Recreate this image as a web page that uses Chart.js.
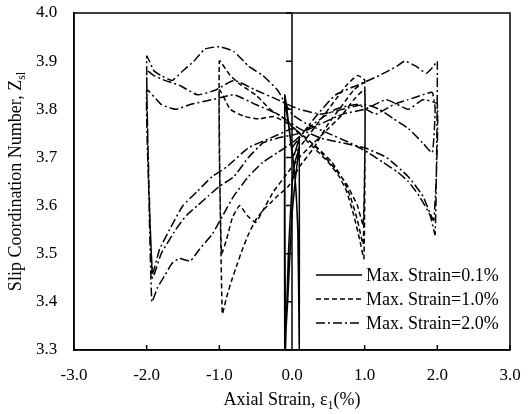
<!DOCTYPE html>
<html>
<head>
<meta charset="utf-8">
<script src="https://cdn.jsdelivr.net/npm/chart.js@4.4.0/dist/chart.umd.min.js"></script>
<style>
    html, body { margin: 0; padding: 0; background: #fff; }
</style>
</head>
<body>
<canvas id="strainChart" width="528" height="414"></canvas>
<script>
// tick values
const xTicks = [-3, -2, -1, 0, 1, 2, 3];
const yTicks = [3.3, 3.4, 3.5, 3.6, 3.7, 3.8, 3.9, 4.0];

// Max. Strain = 0.1%
const strain01 = [0, 0.04, 0.08, 0.1, 0.1, 0.09, 0.06, 0.02, -0.03, -0.07, -0.1, -0.1, -0.06, 0, 0.05, 0.08, 0.1, 0.1,
    0.08, 0.04, 0, -0.05, -0.09, -0.1, -0.09, -0.05, 0, 0.04, 0.08, 0.1];
const z01 = [3.70, 3.71, 3.73, 3.74, 3.30, 3.50, 3.62, 3.69, 3.75, 3.80, 3.83, 3.30, 3.40, 3.58, 3.66, 3.70, 3.72, 3.30,
    3.55, 3.66, 3.71, 3.77, 3.81, 3.82, 3.30, 3.50, 3.64, 3.69, 3.71, 3.72];

// Max. Strain = 1.0%
const strain10 = [0, 0.2, 0.4, 0.6, 0.75, 0.9, 1.0,
    0.99, 0.93, 0.85, 0.75, 0.65, 0.5, 0.3, 0.1, -0.1, -0.3, -0.5, -0.7, -0.85, -1.0,
    -0.96, -0.9, -0.83, -0.75, -0.68, -0.6, -0.5, -0.4, -0.3, -0.2, -0.05, 0.1, 0.3, 0.5, 0.7, 0.85, 1.0,
    0.98, 0.9, 0.8, 0.7, 0.55, 0.35, 0.15, -0.05, -0.25, -0.45, -0.65, -0.85, -1.0,
    -0.97, -0.9, -0.82, -0.72, -0.62, -0.5, -0.4, -0.25, -0.1, 0.1, 0.3, 0.5, 0.7, 0.85, 1.0,
    0.98, 0.9, 0.75, 0.6, 0.4, 0.2, 0];
const z10 = [3.70, 3.74, 3.78, 3.82, 3.85, 3.87, 3.86,
    3.49, 3.53, 3.58, 3.63, 3.66, 3.69, 3.72, 3.75, 3.78, 3.80, 3.83, 3.85, 3.87, 3.90,
    3.375, 3.41, 3.445, 3.48, 3.51, 3.54, 3.57, 3.59, 3.605, 3.62, 3.64, 3.68, 3.72, 3.77, 3.81, 3.84, 3.855,
    3.52, 3.57, 3.62, 3.655, 3.69, 3.72, 3.745, 3.77, 3.785, 3.78, 3.785, 3.80, 3.84,
    3.50, 3.53, 3.575, 3.60, 3.58, 3.565, 3.59, 3.63, 3.66, 3.70, 3.73, 3.76, 3.79, 3.82, 3.84,
    3.56, 3.60, 3.645, 3.675, 3.71, 3.74, 3.76];

// Max. Strain = 2.0%
const strain20 = [0, 0.3, 0.6, 0.9, 1.2, 1.45, 1.55, 1.7, 1.85, 1.95, 2.0,
    1.97, 1.9, 1.75, 1.6, 1.45, 1.25, 1.05, 0.8, 0.5, 0.2, 0, -0.2, -0.4, -0.6, -0.8, -1.0, -1.2, -1.35, -1.5, -1.65, -1.8, -1.9, -2.0,
    -1.93, -1.85, -1.75, -1.65, -1.55, -1.4, -1.27, -1.1, -0.95, -0.8, -0.6, -0.4, -0.2, 0, 0.3, 0.6, 0.9, 1.15, 1.4, 1.6, 1.8, 1.93, 1.97,
    1.93, 1.8, 1.6, 1.4, 1.2, 1.0, 0.7, 0.4, 0.1, -0.2, -0.5, -0.8, -1.05, -1.3, -1.55, -1.75, -1.9, -2.0,
    -1.92, -1.8, -1.6, -1.45, -1.3, -1.15, -1.0, -0.8, -0.6, -0.4, -0.2, 0.1, 0.4, 0.7, 1.0, 1.3, 1.6, 1.8, 2.0,
    1.95, 1.8, 1.6, 1.3, 1.0, 0.7, 0.4, 0.1, -0.2, -0.5, -0.8, -1.1, -1.4, -1.6, -1.8, -2.0,
    -1.92, -1.82, -1.65, -1.5, -1.3, -1.1, -0.9, -0.6, -0.3, 0];
const z20 = [3.72, 3.78, 3.83, 3.85, 3.87, 3.89, 3.90, 3.89, 3.875, 3.89, 3.90,
    3.54, 3.58, 3.62, 3.65, 3.67, 3.69, 3.71, 3.73, 3.75, 3.77, 3.79, 3.84, 3.87, 3.89, 3.92, 3.93, 3.925, 3.90, 3.88, 3.86, 3.87, 3.88, 3.91,
    3.40, 3.43, 3.455, 3.48, 3.49, 3.485, 3.51, 3.54, 3.58, 3.62, 3.66, 3.69, 3.71, 3.73, 3.77, 3.80, 3.81, 3.79, 3.81, 3.82, 3.83, 3.835, 3.80,
    3.71, 3.73, 3.76, 3.78, 3.80, 3.81, 3.80, 3.79, 3.80, 3.82, 3.84, 3.86, 3.84, 3.83, 3.85, 3.86, 3.87, 3.88,
    3.45, 3.50, 3.55, 3.58, 3.60, 3.62, 3.64, 3.66, 3.70, 3.73, 3.74, 3.75, 3.77, 3.79, 3.80, 3.82, 3.80, 3.82, 3.81,
    3.57, 3.62, 3.66, 3.70, 3.72, 3.73, 3.74, 3.76, 3.79, 3.81, 3.83, 3.82, 3.81, 3.80, 3.81, 3.84,
    3.46, 3.51, 3.56, 3.60, 3.63, 3.66, 3.68, 3.72, 3.74, 3.76];

const seriesLabels = ['Max. Strain=0.1%', 'Max. Strain=1.0%', 'Max. Strain=2.0%'];
const serif = "'Liberation Serif', 'Times New Roman', serif";

function toPoints(xs, ys) {
    return xs.map((x, i) => ({ x: x, y: ys[i] }));
}

// frame, zero-strain axis, axis titles and legend
const framePlugin = {
    id: 'frame',
    afterDraw(chart) {
        const ctx = chart.ctx;
        const a = chart.chartArea;
        const xs = chart.scales.x;
        const ys = chart.scales.y;
        ctx.save();
        ctx.strokeStyle = '#000';
        ctx.lineWidth = 1.5;
        ctx.setLineDash([]);
        ctx.strokeRect(a.left, a.top, a.right - a.left, a.bottom - a.top);

        const x0 = xs.getPixelForValue(0);
        ctx.beginPath();
        ctx.moveTo(x0, a.top);
        ctx.lineTo(x0, a.bottom);
        yTicks.forEach(v => {
            const py = ys.getPixelForValue(v);
            ctx.moveTo(x0 - 6, py);
            ctx.lineTo(x0, py);
        });
        xTicks.forEach(v => {
            const px = xs.getPixelForValue(v);
            ctx.moveTo(px, a.bottom);
            ctx.lineTo(px, a.bottom - 5);
        });
        ctx.stroke();

        ctx.fillStyle = '#000';
        ctx.textBaseline = 'alphabetic';

        // x title
        const big = '18px ' + serif;
        const small = '12px ' + serif;
        ctx.font = big;
        const p1 = 'Axial Strain, \u03b5';
        const p3 = '(%)';
        const w1 = ctx.measureText(p1).width;
        const w3 = ctx.measureText(p3).width;
        ctx.font = small;
        const w2 = ctx.measureText('1').width;
        let sx = (a.left + a.right) / 2 - (w1 + w2 + w3) / 2;
        const ty = 405;
        ctx.font = big;
        ctx.fillText(p1, sx, ty);
        ctx.font = small;
        ctx.fillText('1', sx + w1, ty + 4);
        ctx.font = big;
        ctx.fillText(p3, sx + w1 + w2, ty);

        // y title
        ctx.save();
        ctx.translate(21, (a.top + a.bottom) / 2);
        ctx.rotate(-Math.PI / 2);
        const q1 = 'Slip Coordination Number, Z';
        ctx.font = big;
        const v1 = ctx.measureText(q1).width;
        ctx.font = small;
        const v2 = ctx.measureText('sl').width;
        const st = -(v1 + v2) / 2;
        ctx.font = big;
        ctx.fillText(q1, st, 0);
        ctx.font = small;
        ctx.fillText('sl', st + v1, 4);
        ctx.restore();

        // legend
        ctx.font = big;
        ctx.textBaseline = 'middle';
        chart.data.datasets.forEach((ds, i) => {
            const ly = a.top + 262 + i * 24;
            const lx = a.left + 242;
            ctx.beginPath();
            ctx.lineWidth = 1.5;
            ctx.setLineDash(ds.borderDash || []);
            ctx.moveTo(lx, ly);
            ctx.lineTo(lx + 46, ly);
            ctx.stroke();
            ctx.setLineDash([]);
            ctx.fillText(ds.label, lx + 50, ly + 1);
        });
        ctx.restore();
    }
};

const ctx = document.getElementById('strainChart').getContext('2d');
const chart = new Chart(ctx, {
    type: 'scatter',
    data: {
        datasets: [{
            label: seriesLabels[0],
            data: toPoints(strain01, z01),
            borderColor: '#000',
            borderWidth: 1.5,
            borderDash: []
        }, {
            label: seriesLabels[1],
            data: toPoints(strain10, z10),
            borderColor: '#000',
            borderWidth: 1.5,
            borderDash: [5, 3]
        }, {
            label: seriesLabels[2],
            data: toPoints(strain20, z20),
            borderColor: '#000',
            borderWidth: 1.5,
            borderDash: [9, 3, 2, 3]
        }]
    },
    options: {
        responsive: false,
        animation: false,
        showLine: true,
        elements: {
            point: { radius: 0, hoverRadius: 0 },
            line: { tension: 0.15, fill: false }
        },
        layout: {
            padding: { left: 36, right: 18, top: 13, bottom: 0 }
        },
        plugins: {
            legend: { display: false },
            tooltip: { enabled: false }
        },
        scales: {
            x: {
                type: 'linear',
                min: -3,
                max: 3,
                afterBuildTicks: axis => { axis.ticks = xTicks.map(v => ({ value: v })); },
                afterFit: axis => { axis.height = 64; },
                grid: { display: false, drawTicks: true, tickLength: 8 },
                border: { display: true, color: '#000', width: 1.5 },
                ticks: {
                    color: '#000',
                    padding: 7,
                    font: { family: serif, size: 17 },
                    maxRotation: 0,
                    callback: v => v.toFixed(1)
                }
            },
            y: {
                min: 3.3,
                max: 4.0,
                afterBuildTicks: axis => { axis.ticks = yTicks.map(v => ({ value: v })); },
                afterFit: axis => { axis.width = 38; },
                grid: { display: false, drawTicks: false },
                border: { display: true, color: '#000', width: 1.5 },
                ticks: {
                    color: '#000',
                    padding: 2,
                    crossAlign: 'far',
                    font: { family: serif, size: 17 },
                    callback: v => v.toFixed(1)
                }
            }
        }
    },
    plugins: [framePlugin]
});
</script>
</body>
</html>
